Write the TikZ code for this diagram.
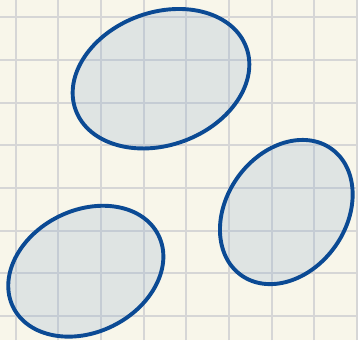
\documentclass[tikz,border=0pt]{standalone}
\usepackage{tikz}
\usetikzlibrary{shapes.geometric}
\definecolor{SheetCream}{HTML}{F8F6EA}
\definecolor{SheetGrid}{HTML}{D6D6D6}
\definecolor{BlobBlue}{HTML}{0B4A94}
\definecolor{BlobFill}{HTML}{98B1CF}

\begin{document}
\begin{tikzpicture}[
      gridline/.style={draw=SheetGrid,line width=1.3pt},
      blob/.style={ellipse,draw=BlobBlue,line width=2.6pt,fill=BlobFill,fill opacity=0.26,inner sep=0pt}
    ]
      \fill[SheetCream] (-0.368,-0.5625) rectangle (8.022,7.406);
      \useasboundingbox (-0.368,-0.5625) rectangle (8.022,7.406);
      \draw[gridline,step=1cm] (-0.368,-0.5625) grid (8.022,7.406);
      \node[blob,rotate=20.2,minimum width=4.26cm,minimum height=3.11cm] (upper) at (3.405,5.561) {};
      \node[blob,rotate=54.4,minimum width=3.64cm,minimum height=2.80cm] (right) at (6.342,2.437) {};
      \node[blob,rotate=26.3,minimum width=3.80cm,minimum height=2.86cm] (lower) at (1.643,1.050) {};
    \end{tikzpicture}
\end{document}
